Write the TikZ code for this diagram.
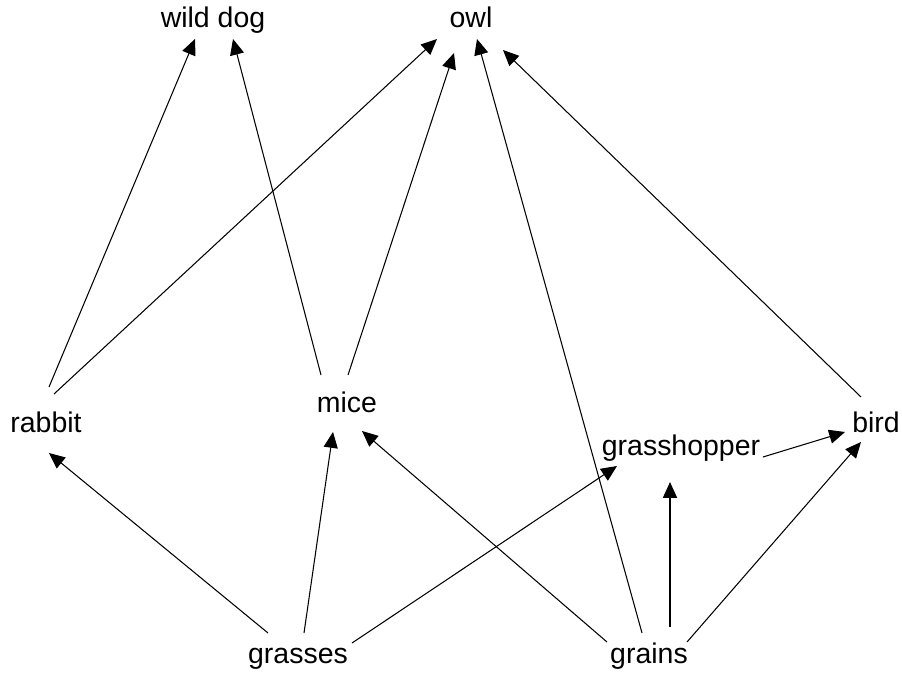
\documentclass[tikz,border=0pt]{standalone}
\usepackage{fontspec}
\setmainfont{Liberation Sans}
\usetikzlibrary{arrows.meta}

\begin{document}
\begin{tikzpicture}[x=0.02cm, y=-0.02cm, >={Triangle[length=9pt, width=8pt]},
  sp/.style={anchor=base, inner sep=0pt, font=\fontsize{16.2}{19}\selectfont},
  e/.style={->, line width=0.6pt}]
\useasboundingbox (0,0) rectangle (902,675);
\node[sp] (wd) at (213,28) {wild dog};
\node[sp] (owl) at (471,28) {owl};
\node[sp] (rb) at (46,432) {rabbit};
\node[sp] (mc) at (347,412) {mice};
\node[sp] (gh) at (681,455) {grasshopper};
\node[sp] (bd) at (876,432) {bird};
\node[sp] (gs) at (298,663) {grasses};
\node[sp] (gn) at (649,663) {grains};
% eaten by
\draw[e] ([shift={(3,-45)}]rb.base) -- ([shift={(-18,11)}]wd.base);
\draw[e] ([shift={(8,-38)}]rb.base) -- ([shift={(-34,11)}]owl.base);
\draw[e] ([shift={(-26,-37)}]mc.base) -- ([shift={(20,11)}]wd.base);
\draw[e] ([shift={(1,-37)}]mc.base) -- ([shift={(-17,25)}]owl.base);
\draw[e] ([shift={(-7,-30)}]gn.base) -- ([shift={(6,11)}]owl.base);
\draw[e] ([shift={(-15,-35)}]bd.base) -- ([shift={(32,22)}]owl.base);
\draw[e] ([shift={(-30,-30)}]gs.base) -- ([shift={(3,21)}]rb.base);
\draw[e] ([shift={(6,-30)}]gs.base) -- ([shift={(-14,20)}]mc.base);
\draw[e] ([shift={(54,-20)}]gs.base) -- ([shift={(-64,11)}]gh.base);
\draw[e] ([shift={(-42,-21)}]gn.base) -- ([shift={(15,19)}]mc.base);
\draw[e] ([shift={(21,-36)}]gn.base) -- ([shift={(-11,27)}]gh.base);
\draw[e] ([shift={(38,-21)}]gn.base) -- ([shift={(-15,10)}]bd.base);
\draw[e] ([shift={(82,2)}]gh.base) -- ([shift={(-31,0)}]bd.base);
\end{tikzpicture}
\end{document}
